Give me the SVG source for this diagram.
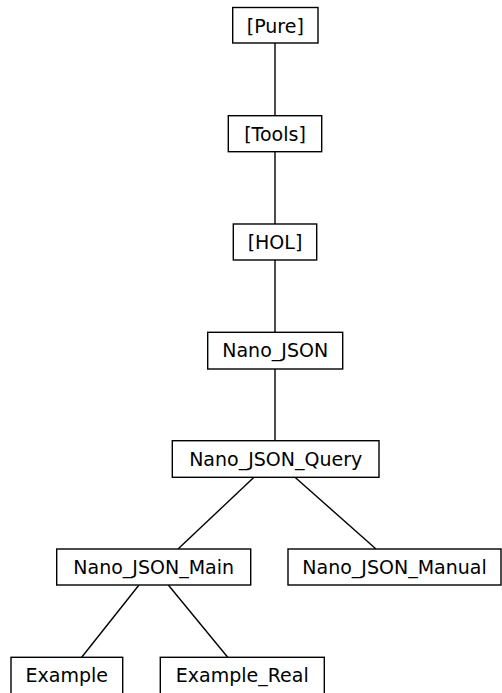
<svg xmlns="http://www.w3.org/2000/svg" width="502" height="693" viewBox="0 0 502 693">
<style>
.n rect{fill:#fff;stroke:#000;stroke-width:1.4}
.n text{font-family:"DejaVu Sans",sans-serif;font-size:19px;text-anchor:middle;fill:#000}
#edges line{stroke:#000;stroke-width:1.4}
</style>
<rect width="502" height="693" fill="#fff"/>
<g id="edges">
<line x1="275" y1="43" x2="275" y2="115.7"/>
<line x1="275" y1="151.7" x2="275" y2="224"/>
<line x1="275" y1="260" x2="275" y2="332.3"/>
<line x1="275" y1="369" x2="275" y2="440.7"/>
<line x1="254" y1="477.3" x2="178" y2="549"/>
<line x1="295" y1="477.3" x2="376" y2="549"/>
<line x1="139" y1="585" x2="81.7" y2="657.3"/>
<line x1="168.3" y1="585" x2="227.7" y2="657.3"/>
</g>
<g id="pure" class="n"><rect x="232.7" y="7.5" width="85.3" height="35.5"/><text x="275.3" y="32.5">[Pure]</text></g>
<g id="tools" class="n"><rect x="228.3" y="115.7" width="93.4" height="36"/><text x="275" y="140.7">[Tools]</text></g>
<g id="hol" class="n"><rect x="233.3" y="224" width="83.4" height="36"/><text x="275" y="249">[HOL]</text></g>
<g id="nano_json" class="n"><rect x="207.7" y="332.3" width="135" height="36.7"/><text x="275.2" y="357.3">Nano_JSON</text></g>
<g id="nano_json_query" class="n"><rect x="172.3" y="440.7" width="206.7" height="36.6"/><text x="275.7" y="465.7">Nano_JSON_Query</text></g>
<g id="nano_json_main" class="n"><rect x="56.7" y="549" width="194" height="36"/><text x="153.7" y="574">Nano_JSON_Main</text></g>
<g id="nano_json_manual" class="n"><rect x="288" y="549" width="213" height="36"/><text x="394.5" y="574">Nano_JSON_Manual</text></g>
<g id="example" class="n"><rect x="11" y="657.3" width="111.7" height="40"/><text x="66.8" y="682.3">Example</text></g>
<g id="example_real" class="n"><rect x="160.3" y="657.3" width="164" height="40"/><text x="242.3" y="682.3">Example_Real</text></g>
</svg>
